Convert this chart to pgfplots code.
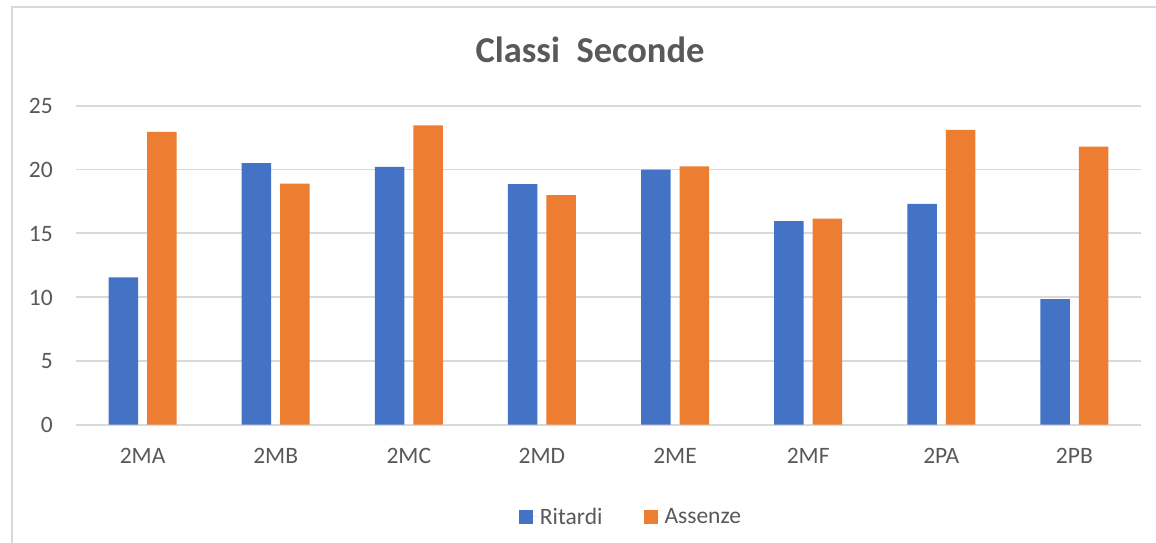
\documentclass[border=0pt]{standalone}
\usepackage{pgfplots}
\pgfplotsset{compat=1.18}
\usepackage{fontspec}
\setmainfont{Carlito}
\definecolor{cblue}{HTML}{4472C4}
\definecolor{corange}{HTML}{ED7D31}
\definecolor{ctext}{HTML}{595959}
\definecolor{cgrid}{HTML}{D9D9D9}
\pgfplotstableread{
x Ritardi Assenze
0 11.55 22.95
1 20.5 18.9
2 20.2 23.45
3 18.85 18.0
4 20.0 20.25
5 15.95 16.15
6 17.3 23.1
7 9.85 21.8
}\datatable
\begin{document}
\begin{tikzpicture}[x=1pt,y=1pt]
\fill[white] (0,0) rectangle (1156,-543);
\useasboundingbox (0,0) rectangle (1156,-543);
\draw[cgrid, line width=1.5pt] (12,-543) -- (12,-7) -- (1156,-7);
\begin{axis}[
  at={(76pt,-424.7pt)}, anchor=south west,
  width=1065pt, height=319pt, scale only axis,
  xmin=-0.5, xmax=7.5, ymin=0, ymax=25,
  ytick={0,5,...,25},
  xtick=data,
  xticklabels={2MA,2MB,2MC,2MD,2ME,2MF,2PA,2PB},
  ybar=9pt, bar width=29.5pt,
  axis line style={draw=none},
  major tick length=0pt,
  ymajorgrids,
  grid style={cgrid, line width=1.8pt},
  /pgf/number format/assume math mode=true,
  ticklabel style={font=\fontsize{23.5}{28}\selectfont, text=ctext, inner sep=0pt},
  xticklabel style={anchor=base, yshift=-39pt},
  yticklabel style={anchor=base east, xshift=-23pt, yshift=-8pt},
  legend style={at={(0.5216,-0.289)}, anchor=center, draw=none, fill=none,
    font=\fontsize{23.5}{28}\selectfont, text=ctext, legend columns=2,
    /tikz/every even column/.append style={column sep=38pt},
    nodes={inner sep=3pt}},
  legend image code/.code={\fill[#1] (0pt,-7pt) rectangle (14pt,7pt); \path (0pt,0pt) -- (18pt,0pt);},
]
\addplot[fill=cblue, draw=none] table[x=x, y=Ritardi] {\datatable};
\addplot[fill=corange, draw=none] table[x=x, y=Assenze] {\datatable};
\legend{Ritardi, Assenze}
\end{axis}
\node[anchor=base, text=ctext, font=\fontsize{36.5}{42}\selectfont\bfseries] at (590,-62.7) {Classi\ \ Seconde};
\end{tikzpicture}
\end{document}
